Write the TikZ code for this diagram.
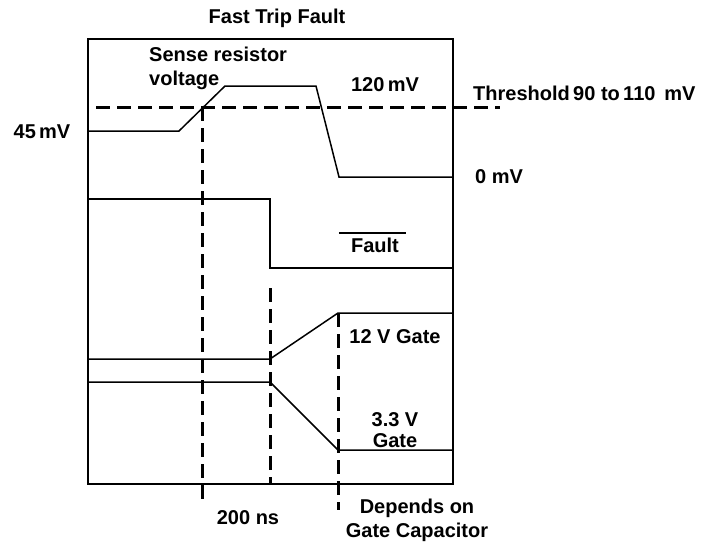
\documentclass[tikz,border=0pt]{standalone}
\usepackage{fontspec}
\setmainfont{Liberation Sans}
\usepackage{tikz}
\usetikzlibrary{positioning}

\begin{document}
\begin{tikzpicture}[x=1pt,y=-1pt,
		wave/.style={line width=1.5pt,line join=miter},
		guide/.style={line width=3pt,dash pattern=on 14pt off 7pt},
		lbl/.style={font=\fontsize{20}{24}\selectfont\bfseries,inner sep=0pt,align=center}]

		\useasboundingbox (0,0) rectangle (703,546);

		% Frame of the plot.
		\draw[wave] (88,39) rectangle (453,484);

		% Threshold line.
		\draw[guide] (96,107) -- (500,107);

		% Sense resistor voltage.
		\draw[wave] (88,131) -- (179,131) -- (225,86) -- (316,86)
			-- (339,177) -- (453,177);

		% Fault signal.
		\draw[wave] (88,199) -- (270,199) -- (270,268) -- (453,268);

		% Gate signals.
		\draw[wave] (88,359) -- (270,359) -- (338,313) -- (453,313); % 12 V
		\draw[wave] (88,382) -- (270,382) -- (338,450) -- (453,450); % 3.3 V

		% Timing markers.
		\draw[guide] (202,107) -- (202,506);
		\draw[guide] (270,288) -- (270,484);
		\draw[guide] (338,313) -- (338,510);

		% Labels.
		\node[lbl] (title) at (277,18) {Fast Trip Fault};
		\node[lbl,align=left,anchor=west] (sense) at (149,68) {Sense resistor\\voltage};
		\node[lbl] (low) at (42,132) {45\,mV};
		\node[lbl] (high) at (385,85) {120\,mV};
		\node[lbl,anchor=west] (thr) at (473,93) {Threshold\,90 to\,110 \,mV};
		\node[lbl,anchor=west] (zero) at (475,177) {0 mV};
		\node[lbl] (fault) at (375,245) {Fault};
		\draw[line width=2pt] ([xshift=-12pt,yshift=4pt]fault.north west)
			-- ([xshift=7pt,yshift=4pt]fault.north east);
		\node[lbl] (g12) at (395,337) {12 V Gate};
		\node[lbl,font=\fontsize{20}{21}\selectfont\bfseries] (g33) at (395,430) {3.3 V\\Gate};
		\node[lbl] (t200) at (248,518) {200 ns};
		\node[lbl] (dep) at (417,520) {Depends on\\Gate Capacitor};

\end{tikzpicture}
\end{document}
